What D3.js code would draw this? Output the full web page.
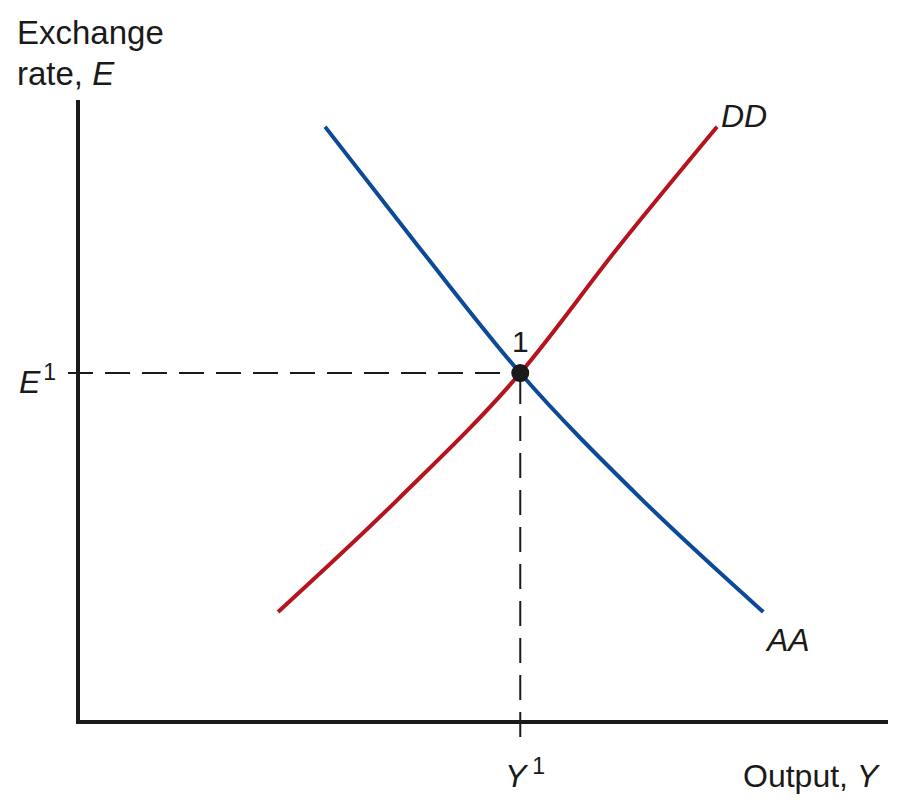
<!DOCTYPE html>
<html>
<head>
<meta charset="utf-8">
<script src="https://cdn.jsdelivr.net/npm/d3@7/dist/d3.min.js"></script>
<style>
  html, body { margin: 0; padding: 0; background: #fff; }
  text { font-family: "Liberation Sans", Arial, Helvetica, sans-serif; fill: #1a1a1a; }
</style>
</head>
<body>
<svg id="chart" width="911" height="811"></svg>
<script>
// Data in abstract units (output Y on x, exchange rate E on y), 0..100
const aaCurve = [[30.5, 95.7], [42.0, 76.5], [54.6, 56.1], [69.6, 35.8], [84.6, 17.7]];
const ddCurve = [[24.7, 17.7], [39.5, 35.8], [54.6, 56.1], [66.8, 76.5], [78.9, 95.7]];
const equilibrium = { y: 54.6, e: 56.1, label: "1" };
const curveLabels = ["AA", "DD"];

const svg = d3.select("#chart");
const x = d3.scaleLinear().domain([0, 100]).range([78, 888]);
const y = d3.scaleLinear().domain([0, 100]).range([722, 100]);

const line = d3.line().x(d => x(d[0])).y(d => y(d[1])).curve(d3.curveMonotoneX);

// Dashed guide lines
svg.append("line")
  .attr("x1", 68).attr("x2", x(equilibrium.y))
  .attr("y1", y(equilibrium.e)).attr("y2", y(equilibrium.e))
  .attr("stroke", "#1a1a1a").attr("stroke-width", 2).attr("stroke-dasharray", "25,12");
svg.append("line")
  .attr("x1", x(equilibrium.y)).attr("x2", x(equilibrium.y))
  .attr("y1", 737).attr("y2", y(equilibrium.e))
  .attr("stroke", "#1a1a1a").attr("stroke-width", 2).attr("stroke-dasharray", "25,12");

// Axes
svg.append("line").attr("x1", x(0)).attr("x2", x(0)).attr("y1", 100).attr("y2", 724)
  .attr("stroke", "#1a1a1a").attr("stroke-width", 4);
svg.append("line").attr("x1", 76).attr("x2", 888).attr("y1", y(0)).attr("y2", y(0))
  .attr("stroke", "#1a1a1a").attr("stroke-width", 4);

// Curves
svg.append("path").datum(ddCurve).attr("d", line)
  .attr("fill", "none").attr("stroke", "#b5141e").attr("stroke-width", 4);
svg.append("path").datum(aaCurve).attr("d", line)
  .attr("fill", "none").attr("stroke", "#0c4a98").attr("stroke-width", 4);

// Equilibrium point
svg.append("circle").attr("cx", x(equilibrium.y)).attr("cy", y(equilibrium.e)).attr("r", 9)
  .attr("fill", "#1a1a1a");
svg.append("text").attr("x", x(equilibrium.y)).attr("y", y(equilibrium.e) - 21)
  .attr("text-anchor", "middle").attr("font-size", 30).text(equilibrium.label);

// Curve labels
svg.append("text").attr("x", 767).attr("y", 651).attr("font-size", 32)
  .attr("font-style", "italic").text(curveLabels[0]);
svg.append("text").attr("x", 721).attr("y", 127).attr("font-size", 32)
  .attr("font-style", "italic").text(curveLabels[1]);

// Axis titles
const yt = svg.append("text").attr("font-size", 33);
yt.append("tspan").attr("x", 17).attr("y", 44).text("Exchange");
yt.append("tspan").attr("x", 17).attr("y", 85).text("rate, ");
yt.append("tspan").attr("font-style", "italic").text("E");

const xt = svg.append("text").attr("x", 743).attr("y", 787).attr("font-size", 32);
xt.append("tspan").text("Output,  ");
xt.append("tspan").attr("font-style", "italic").text("Y");

// Tick labels
const e1 = svg.append("text").attr("x", 19).attr("y", 393).attr("font-size", 32);
e1.append("tspan").attr("font-style", "italic").text("E");
e1.append("tspan").attr("font-size", 23).attr("dy", -13).attr("dx", 3).text("1");

const y1 = svg.append("text").attr("x", 505).attr("y", 787).attr("font-size", 32);
y1.append("tspan").attr("font-style", "italic").text("Y");
y1.append("tspan").attr("font-size", 23).attr("dy", -13).attr("dx", 6).text("1");
</script>
</body>
</html>
